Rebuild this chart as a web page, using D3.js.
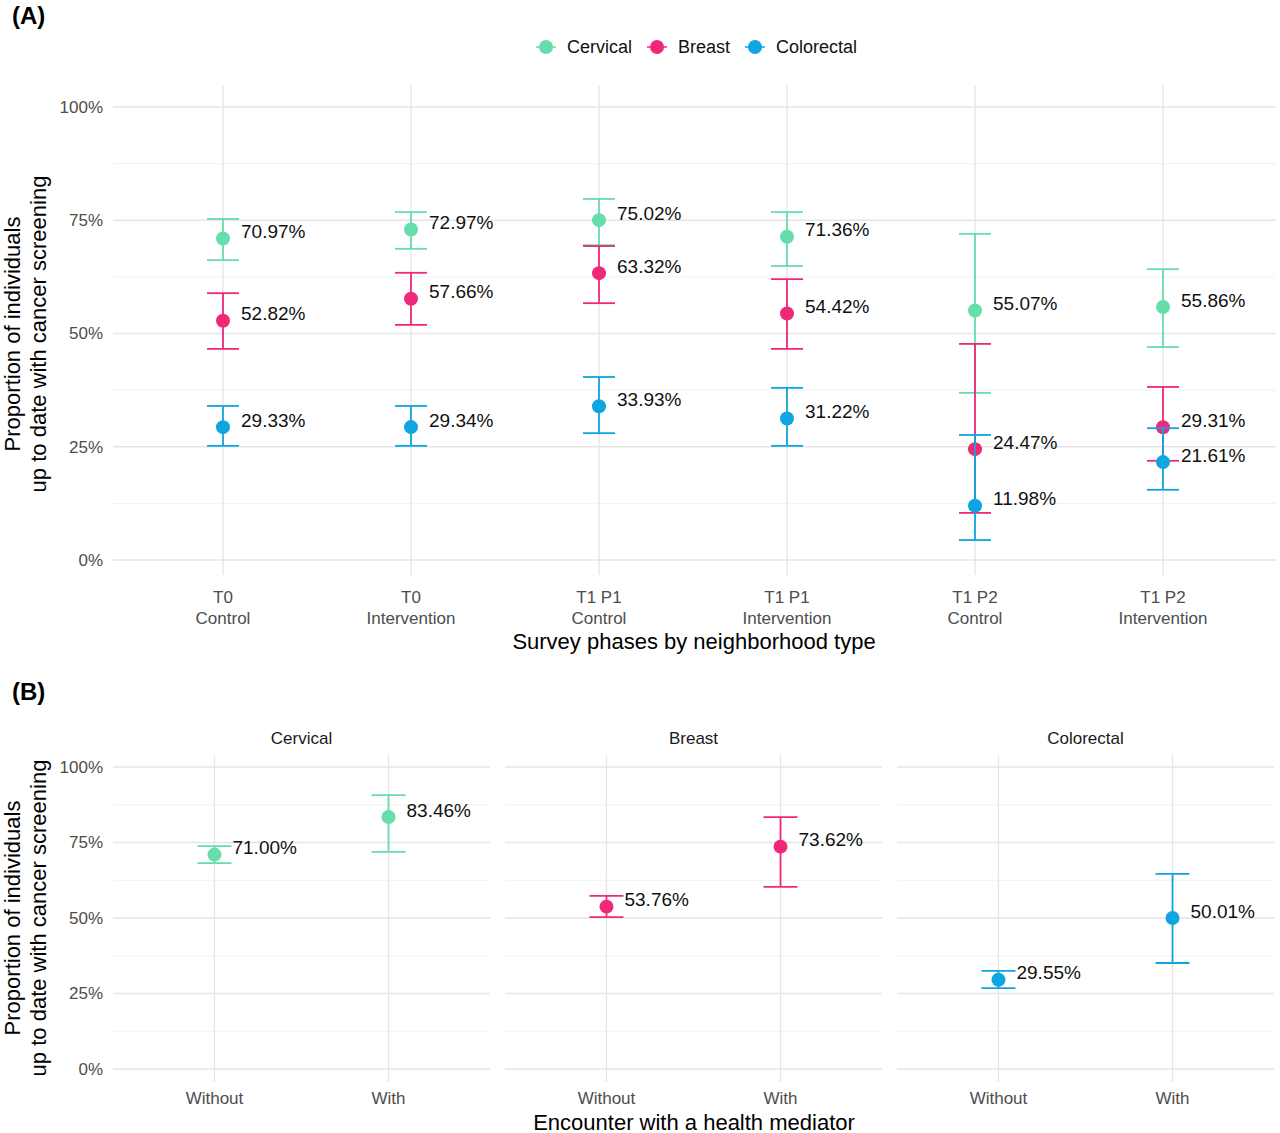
<!DOCTYPE html>
<html><head><meta charset="utf-8">
<script src="https://cdn.jsdelivr.net/npm/d3@7"></script>
<style>body{margin:0;background:#fff}svg{font-family:"Liberation Sans",Arial,sans-serif}</style>
</head><body><svg id="c" width="1280" height="1133"></svg>
<script>
const phases = ["T0\nControl","T0\nIntervention","T1 P1\nControl","T1 P1\nIntervention","T1 P2\nControl","T1 P2\nIntervention"];
const seriesNames = ["Cervical","Breast","Colorectal"];
const colors = ["#66DDAA","#F0287A","#0EA5E0"];
const cervVal = [70.97,72.97,75.02,71.36,55.07,55.86];
const cervLo  = [66.2,68.7,69.5,64.9,36.9,47.0];
const cervHi  = [75.3,76.8,79.7,76.8,72.0,64.2];
const breVal  = [52.82,57.66,63.32,54.42,24.47,29.31];
const breLo   = [46.6,51.9,56.7,46.6,10.4,21.9];
const breHi   = [58.9,63.4,69.3,62.0,47.7,38.2];
const colVal  = [29.33,29.34,33.93,31.22,11.98,21.61];
const colLo   = [25.2,25.2,28.0,25.2,4.4,15.5];
const colHi   = [34.0,34.0,40.4,38.0,27.6,29.1];
const mediator = ["Without","With"];
const bVal = [[71.00,83.46],[53.76,73.62],[29.55,50.01]];
const bLo  = [[68.2,71.9],[50.3,60.3],[26.8,35.1]];
const bHi  = [[73.8,90.7],[57.3,83.4],[32.5,64.6]];
const yTicks = [0,25,50,75,100];

const svg = d3.select("#c");
const fmt = v => v.toFixed(2)+"%";
function grid(g, y, x0, x1){
  [12.5,37.5,62.5,87.5].forEach(t=>g.append("line").attr("x1",x0).attr("x2",x1).attr("y1",y(t)).attr("y2",y(t)).attr("stroke","#f2f2f2").attr("stroke-width",1));
  yTicks.forEach(t=>g.append("line").attr("x1",x0).attr("x2",x1).attr("y1",y(t)).attr("y2",y(t)).attr("stroke","#e5e5e5").attr("stroke-width",1.3));
}
function ticksY(g, y, x){
  yTicks.forEach(t=>g.append("text").attr("x",x).attr("y",y(t)).attr("dy","0.35em").attr("text-anchor","end").attr("font-size",17).attr("fill","#4d4d4d").text(t+"%"));
}
function pointBar(g,x,yl,yh,yv,col,cap,label){
  g.append("line").attr("x1",x).attr("x2",x).attr("y1",yl).attr("y2",yh).attr("stroke",col).attr("stroke-width",1.8);
  [yl,yh].forEach(yy=>g.append("line").attr("x1",x-cap).attr("x2",x+cap).attr("y1",yy).attr("y2",yy).attr("stroke",col).attr("stroke-width",1.8));
  g.append("circle").attr("cx",x).attr("cy",yv).attr("r",7).attr("fill",col);
  g.append("text").attr("x",x+18).attr("y",yv-7).attr("dy","0.35em").attr("font-size",19).attr("fill","#111").text(label);
}
svg.append("text").attr("x",12).attr("y",24).attr("font-size",24).attr("font-weight","bold").text("(A)");
svg.append("text").attr("x",12).attr("y",700).attr("font-size",24).attr("font-weight","bold").text("(B)");
const yA = d3.scaleLinear().domain([0,100]).range([560,107]);
const xA = d3.scalePoint().domain(phases).range([223-94,1163+94]).padding(0.5);
const gA = svg.append("g");
grid(gA,yA,113,1276);
phases.forEach(p=>gA.append("line").attr("x1",xA(p)).attr("x2",xA(p)).attr("y1",85).attr("y2",575).attr("stroke","#e5e5e5").attr("stroke-width",1.3));
ticksY(gA,yA,103);
phases.forEach(p=>{const t=gA.append("text").attr("text-anchor","middle").attr("font-size",17).attr("fill","#4d4d4d");
  p.split("\n").forEach((s,i)=>t.append("tspan").attr("x",xA(p)).attr("y",603+i*21).text(s));});
gA.append("text").attr("x",694).attr("y",649).attr("text-anchor","middle").attr("font-size",22).text("Survey phases by neighborhood type");
const yTitle=(g,cx,cy)=>{const t=g.append("text").attr("transform",`translate(${cx},${cy}) rotate(-90)`).attr("text-anchor","middle").attr("font-size",22);
  t.append("tspan").attr("x",0).attr("y",-4).text("Proportion of individuals");t.append("tspan").attr("x",0).attr("y",22).text("up to date with cancer screening");};
yTitle(gA,24,334);
const sets=[[cervVal,cervLo,cervHi],[breVal,breLo,breHi],[colVal,colLo,colHi]];
sets.forEach((s,k)=>phases.forEach((p,i)=>pointBar(gA,xA(p),yA(s[1][i]),yA(s[2][i]),yA(s[0][i]),colors[k],16,fmt(s[0][i]))));
const lx=[546,657,755];
seriesNames.forEach((n,k)=>{const g=svg.append("g");
  g.append("line").attr("x1",lx[k]-10).attr("x2",lx[k]+10).attr("y1",47).attr("y2",47).attr("stroke",colors[k]).attr("stroke-width",1.5);
  g.append("circle").attr("cx",lx[k]).attr("cy",47).attr("r",7).attr("fill",colors[k]);
  g.append("text").attr("x",lx[k]+21).attr("y",47).attr("dy","0.35em").attr("font-size",18).attr("fill","#111").text(n);});
const yB = d3.scaleLinear().domain([0,100]).range([1069,767]);
const facetX=[113,505,897];
yTitle(svg.append("g"),24,918);
seriesNames.forEach((n,k)=>{
  const g=svg.append("g");const x0=facetX[k],x1=x0+377;
  const x=d3.scalePoint().domain(mediator).range([x0,x1]).padding(0.583);
  grid(g,yB,x0,x1);
  mediator.forEach(m=>g.append("line").attr("x1",x(m)).attr("x2",x(m)).attr("y1",755).attr("y2",1082).attr("stroke","#e5e5e5").attr("stroke-width",1.3));
  mediator.forEach(m=>g.append("text").attr("x",x(m)).attr("y",1104).attr("text-anchor","middle").attr("font-size",17).attr("fill","#4d4d4d").text(m));
  g.append("text").attr("x",(x0+x1)/2).attr("y",744).attr("text-anchor","middle").attr("font-size",17).attr("fill","#1a1a1a").text(n);
  mediator.forEach((m,i)=>pointBar(g,x(m),yB(bLo[k][i]),yB(bHi[k][i]),yB(bVal[k][i]),colors[k],17,fmt(bVal[k][i])));
});
ticksY(svg.append("g"),yB,103);
svg.append("text").attr("x",694).attr("y",1130).attr("text-anchor","middle").attr("font-size",22).text("Encounter with a health mediator");
</script></body></html>
